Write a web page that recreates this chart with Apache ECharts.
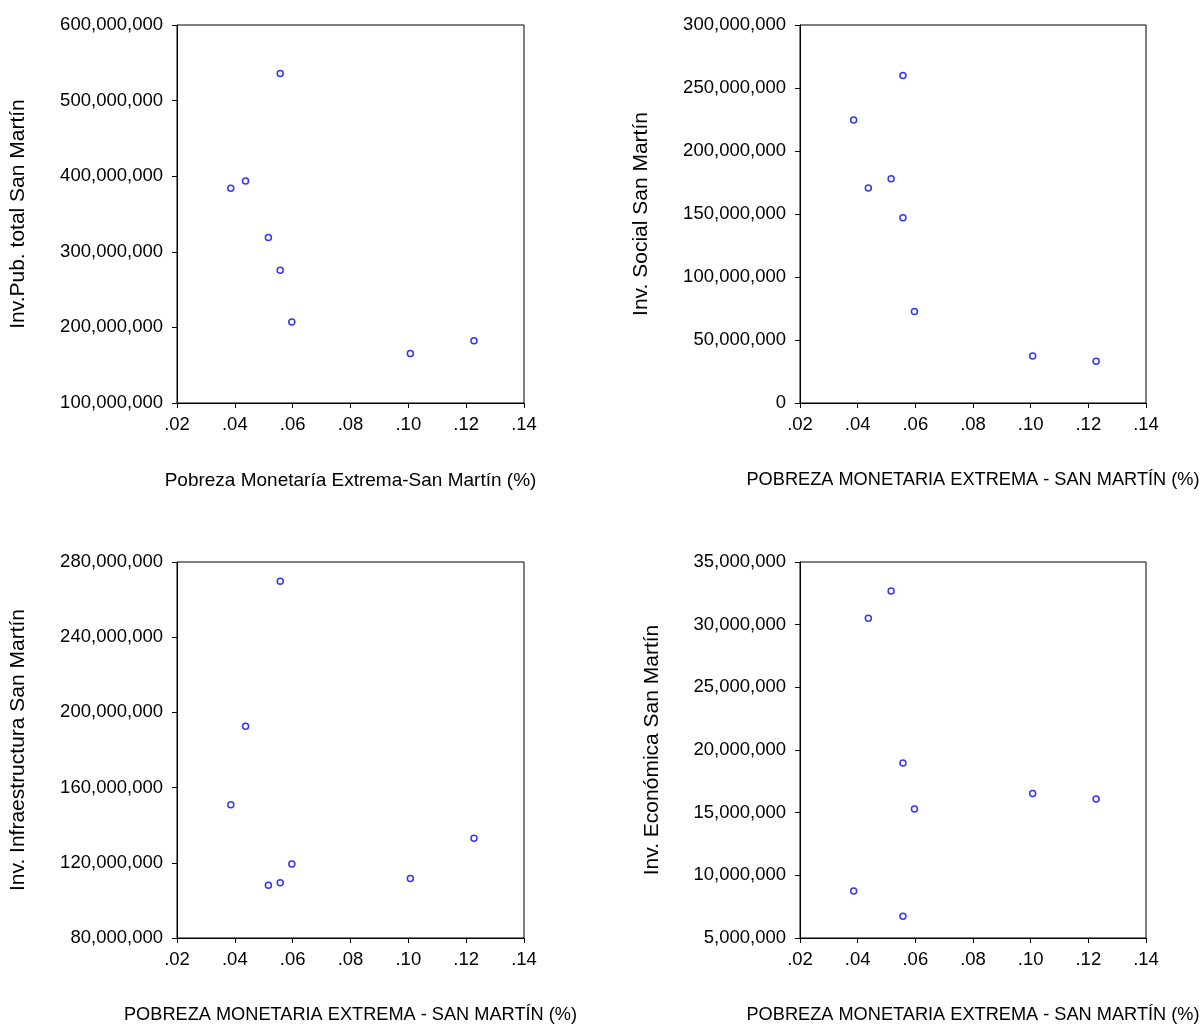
<!DOCTYPE html>
<html>
<head>
<meta charset="utf-8">
<script src="https://cdn.jsdelivr.net/npm/echarts@6/dist/echarts.min.js"></script>
<style>
  html, body { margin: 0; padding: 0; background: #fff; }
  #chart { width: 1200px; height: 1025px; }
</style>
</head>
<body>
<div id="chart"></div>
<script>
// pobreza monetaria extrema (fraction) for each observation
const pobreza = [0.0386, 0.0437, 0.0516, 0.0557, 0.0557, 0.0597, 0.1007, 0.1227];
const invTotal = [384.1e6, 393.8e6, 319.0e6, 535.8e6, 275.7e6, 207.1e6, 165.5e6, 182.3e6];
const invSocial = [224.6e6, 170.7e6, 177.9e6, 259.9e6, 147.1e6, 72.7e6, 37.4e6, 33.2e6];
const invInfra = [150.9e6, 192.6e6, 108.0e6, 269.7e6, 109.4e6, 119.4e6, 111.6e6, 133.0e6];
const invEcon = [8.75e6, 30.51e6, 32.69e6, 6.73e6, 18.96e6, 15.29e6, 16.52e6, 16.09e6];

const xTitles = [
  "Pobreza Monetaría Extrema-San Martín (%)",
  "POBREZA MONETARIA EXTREMA - SAN MARTÍN (%)",
  "POBREZA MONETARIA EXTREMA - SAN MARTÍN (%)",
  "POBREZA MONETARIA EXTREMA - SAN MARTÍN (%)",
];
const yTitles = [
  "Inv.Pub. total San Martín",
  "Inv. Social San Martín",
  "Inv. Infraestructura San Martín",
  "Inv. Económica San Martín",
];
const yRanges = [
  [100e6, 600e6, 100e6],
  [0, 300e6, 50e6],
  [80e6, 280e6, 40e6],
  [5e6, 35e6, 5e6],
];
const seriesData = [invTotal, invSocial, invInfra, invEcon];

const FONT = "Liberation Sans, Arial, sans-serif";

const grids = [
  { left: 177, top: 25, width: 347, height: 378 },
  { left: 800, top: 25, width: 346, height: 378 },
  { left: 177, top: 562, width: 347, height: 376 },
  { left: 800, top: 562, width: 346, height: 376 },
];
const yNameGaps = [148, 148, 148, 137];
const xTitleSizes = [19, 18.2, 18.2, 18.2];

const chart = echarts.init(document.getElementById("chart"));

function fmtX(v) {
  return v.toFixed(2).replace(/^0/, "");
}
function fmtY(v) {
  return Math.round(v).toLocaleString("en-US");
}

chart.setOption({
  animation: false,
  backgroundColor: "#fff",
  grid: grids.map((g) => ({
    ...g,
    show: true,
    outerBoundsMode: "none",
    containLabel: false,
    borderColor: "#000",
    borderWidth: 1,
    backgroundColor: "transparent",
  })),
  xAxis: grids.map((g, i) => ({
    type: "value",
    gridIndex: i,
    min: 0.02,
    max: 0.14,
    interval: 0.02,
    name: xTitles[i],
    nameLocation: "middle",
    nameGap: 68,
    nameTextStyle: { color: "#000", fontSize: xTitleSizes[i], fontFamily: FONT },
    axisLine: { show: true, lineStyle: { color: "#000", width: 1 } },
    axisTick: { show: true, inside: false, length: 5, lineStyle: { color: "#000" } },
    axisLabel: { color: "#000", fontSize: 18.5, fontFamily: FONT, margin: 12, formatter: fmtX },
    splitLine: { show: false },
  })),
  yAxis: grids.map((g, i) => ({
    type: "value",
    gridIndex: i,
    min: yRanges[i][0],
    max: yRanges[i][1],
    interval: yRanges[i][2],
    name: yTitles[i],
    nameLocation: "middle",
    nameRotate: 90,
    nameGap: yNameGaps[i],
    nameTextStyle: { color: "#000", fontSize: 21, fontFamily: FONT },
    axisLine: { show: true, lineStyle: { color: "#000", width: 1 } },
    axisTick: { show: true, inside: false, length: 5, lineStyle: { color: "#000" } },
    axisLabel: { color: "#000", fontSize: 18.5, fontFamily: FONT, margin: 14, formatter: fmtY },
    splitLine: { show: false },
  })),
  series: seriesData.map((arr, i) => ({
    type: "scatter",
    xAxisIndex: i,
    yAxisIndex: i,
    symbol: "circle",
    symbolSize: 6,
    itemStyle: { color: "#fff", borderColor: "#0000ff", borderWidth: 1.5 },
    data: pobreza.map((x, k) => [x, arr[k]]),
  })),
});

window.addEventListener("resize", () => chart.resize());
</script>
</body>
</html>
